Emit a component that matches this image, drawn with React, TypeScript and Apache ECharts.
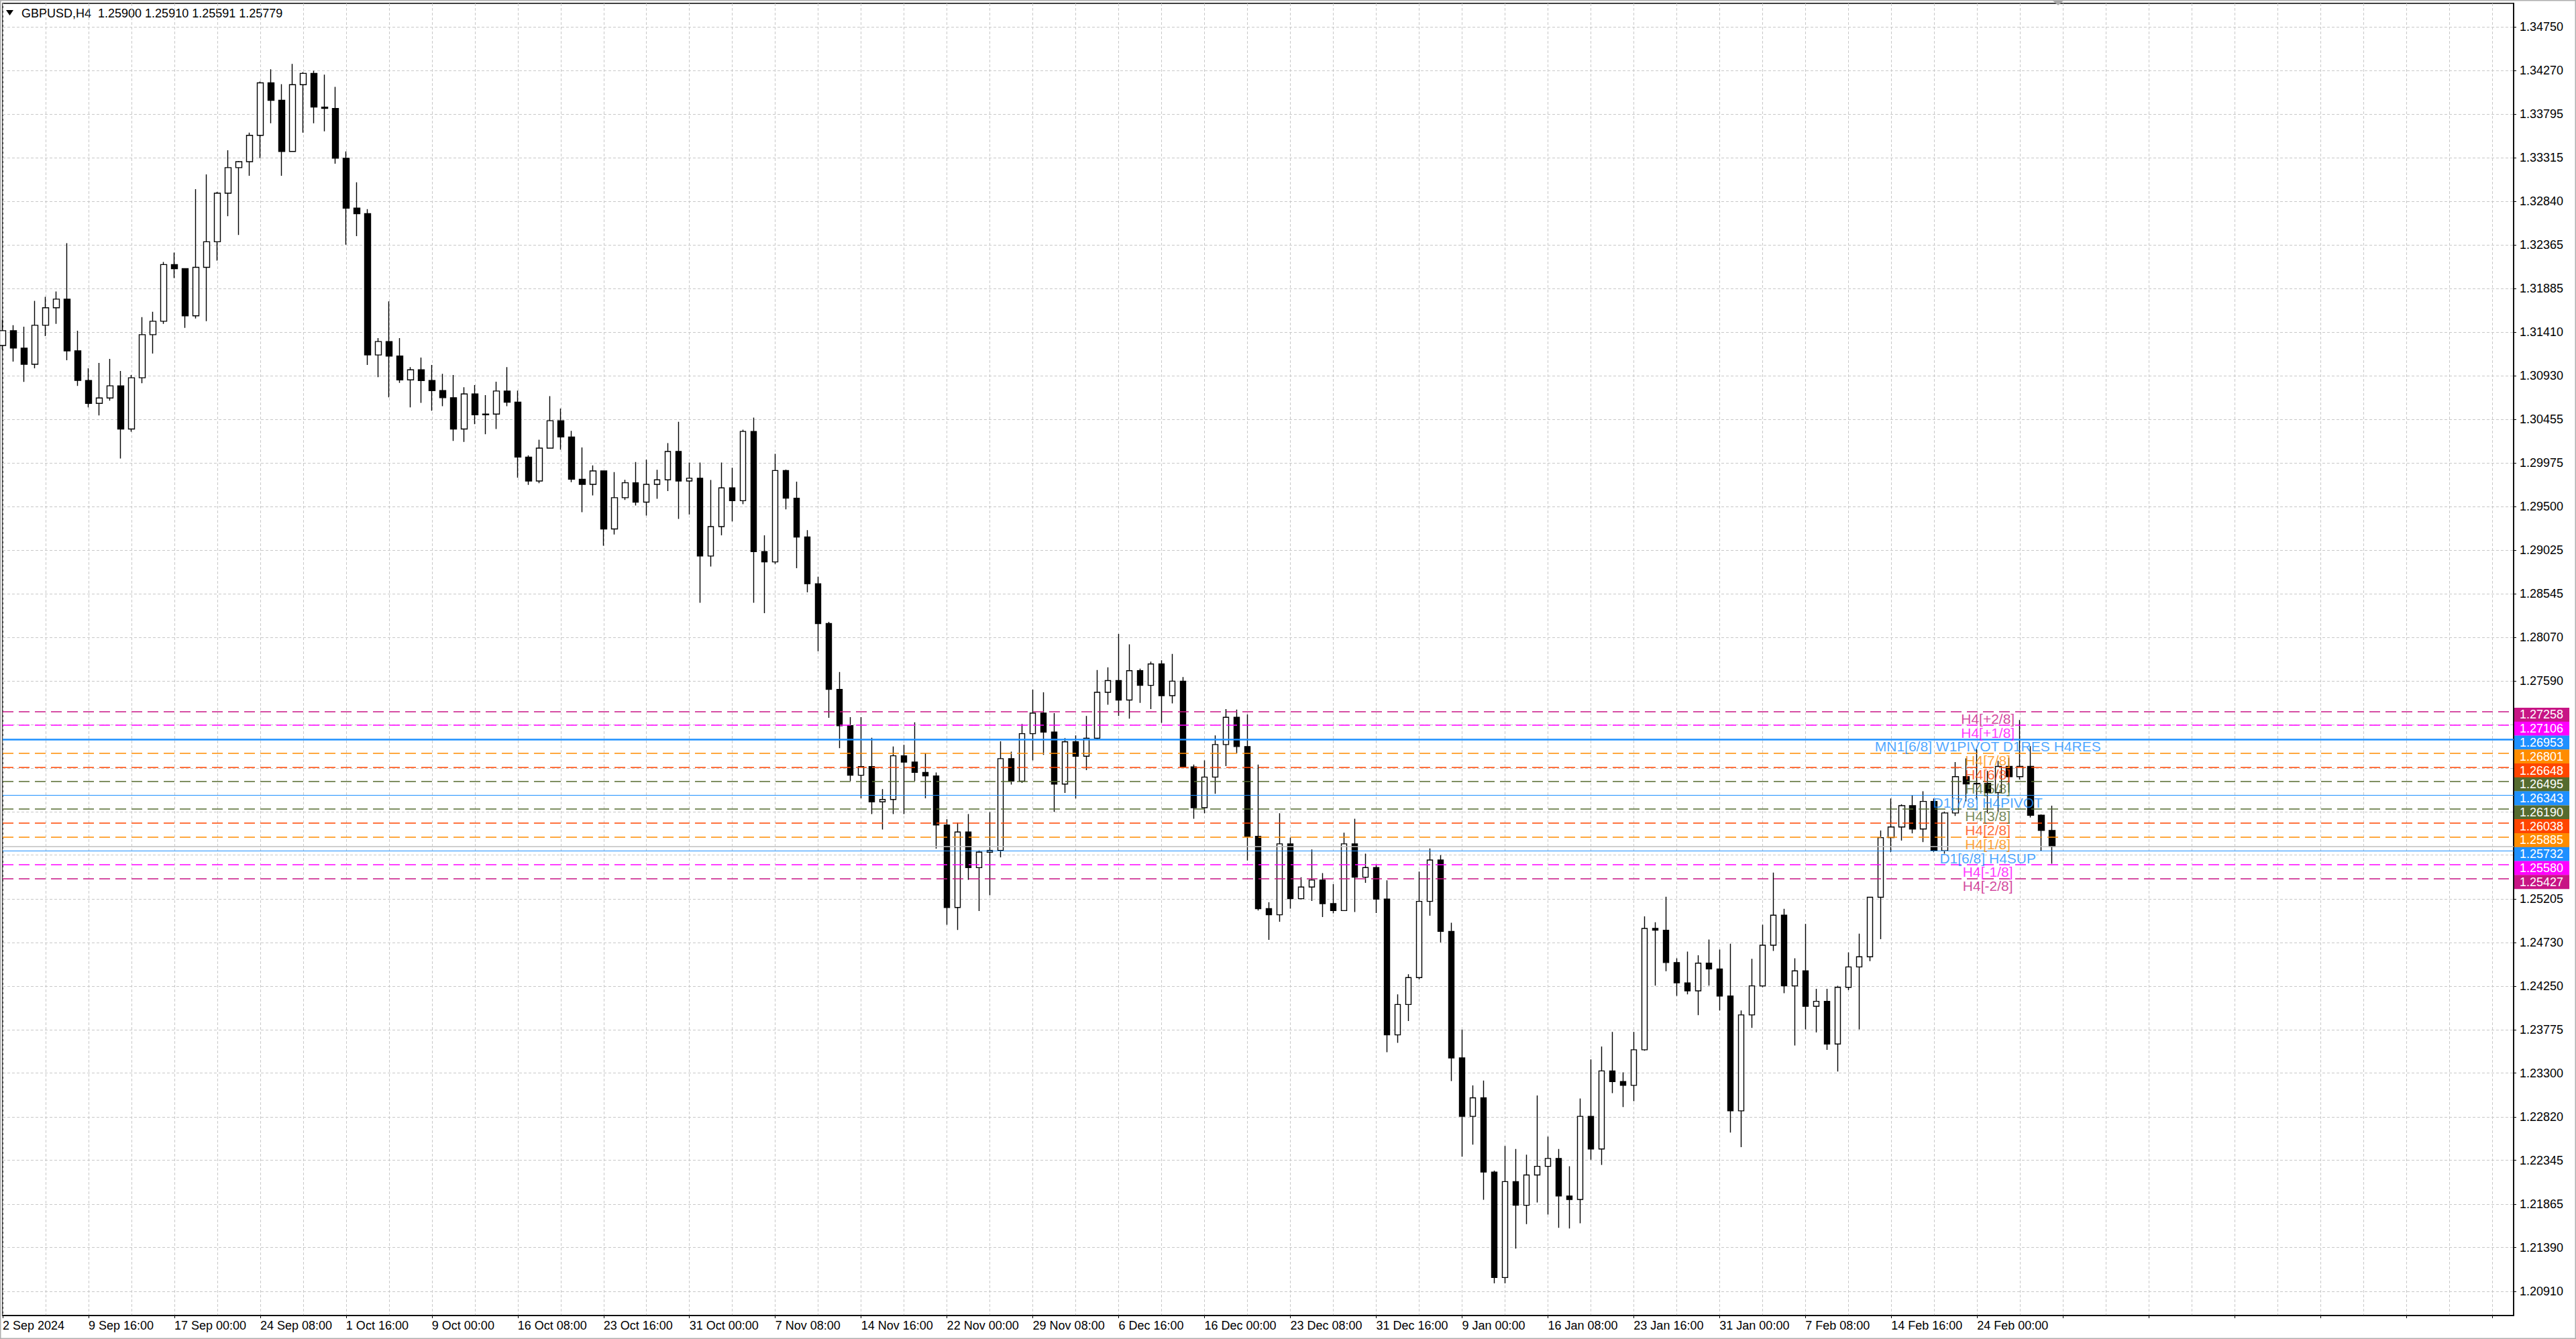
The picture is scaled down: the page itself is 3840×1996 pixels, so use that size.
import { useEffect, useRef } from 'react';
import * as echarts from 'echarts';

// GBPUSD H4, one candle here = four H4 bars
const firstOpen = 1.31263;

const highs = [
  1.31543, 1.31484, 1.31469, 1.3175, 1.31794, 1.31853, 1.32383, 1.31425, 1.31013, 1.31071,
  1.31116, 1.30983, 1.30939, 1.31573, 1.31632, 1.32177, 1.3228, 1.32103, 1.32973, 1.33135,
  1.32943, 1.334, 1.33282, 1.33592, 1.34152, 1.34285, 1.34123, 1.34344, 1.34255, 1.3427,
  1.34226, 1.34093, 1.33386, 1.33048, 1.32754, 1.31343, 1.31745, 1.31343, 1.31025, 1.3113,
  1.3105, 1.30952, 1.3094, 1.30805, 1.3083, 1.3072, 1.30866, 1.31025, 1.30769, 1.3006,
  1.30231, 1.30708, 1.30573, 1.30329, 1.30146, 1.29951, 1.29877, 1.29877, 1.29792, 1.29987,
  1.30012, 1.29902, 1.30195, 1.30427, 1.29981, 1.29981, 1.29791, 1.29981, 1.29924, 1.30341,
  1.30473, 1.29185, 1.30076, 1.29905, 1.29773, 1.29242, 1.28731, 1.28238, 1.27689, 1.27196,
  1.27196, 1.26969, 1.26408, 1.26874, 1.26893, 1.27139, 1.26798, 1.2659, 1.26078, 1.2604,
  1.26135, 1.25737, 1.26154, 1.26931, 1.26817, 1.2712, 1.27497, 1.27467, 1.27239, 1.26965,
  1.26995, 1.27208, 1.27711, 1.27741, 1.28106, 1.27991, 1.27726, 1.27802, 1.27817, 1.27887,
  1.27634, 1.26676, 1.26721, 1.26995, 1.27284, 1.27278, 1.27224, 1.26676, 1.25169, 1.26143,
  1.25878, 1.25443, 1.25747, 1.25488, 1.25367, 1.2593, 1.26082, 1.25701, 1.25584, 1.2541,
  1.24161, 1.24382, 1.25505, 1.25758, 1.25685, 1.24945, 1.23775, 1.23165, 1.23218, 1.22232,
  1.22501, 1.22469, 1.22406, 1.23054, 1.22605, 1.22469, 1.22279, 1.23022, 1.23449, 1.23591,
  1.2375, 1.23307, 1.2375, 1.25015, 1.24951, 1.2523, 1.24556, 1.24629, 1.24588, 1.24762,
  1.24651, 1.24715, 1.23984, 1.2455, 1.24922, 1.25494, 1.25097, 1.24556, 1.24931, 1.24222,
  1.24222, 1.24254, 1.2462, 1.24826, 1.25224, 1.25955, 1.26305, 1.26241, 1.26337, 1.26384,
  1.26305, 1.26162, 1.26703, 1.26744, 1.26846, 1.26607, 1.26718, 1.2675, 1.27164, 1.26877,
  1.2613, 1.26226,
];

const lows = [
  1.31219, 1.31086, 1.30865, 1.31013, 1.31366, 1.31499, 1.31101, 1.30821, 1.30585, 1.30497,
  1.30659, 1.30025, 1.3032, 1.3085, 1.31175, 1.31499, 1.32, 1.31455, 1.31558, 1.31528,
  1.32192, 1.32678, 1.32472, 1.3312, 1.33312, 1.33695, 1.3312, 1.33386, 1.33592, 1.33695,
  1.33607, 1.33253, 1.32366, 1.3246, 1.31049, 1.30915, 1.30695, 1.30854, 1.30586, 1.30634,
  1.30549, 1.30598, 1.30219, 1.30207, 1.30402, 1.30292, 1.30349, 1.30598, 1.29816, 1.29738,
  1.29755, 1.30134, 1.30122, 1.29767, 1.29438, 1.29621, 1.29071, 1.29194, 1.29572, 1.29511,
  1.29401, 1.29584, 1.2967, 1.29365, 1.29413, 1.28446, 1.28844, 1.29185, 1.29337, 1.29526,
  1.28446, 1.28333, 1.28871, 1.29469, 1.28825, 1.2856, 1.27916, 1.27188, 1.26855, 1.26495,
  1.26306, 1.26135, 1.25965, 1.26135, 1.26135, 1.26495, 1.26306, 1.25756, 1.24923, 1.24866,
  1.25415, 1.25074, 1.25245, 1.25661, 1.26457, 1.26476, 1.26721, 1.26782, 1.26158, 1.26365,
  1.26304, 1.26615, 1.2695, 1.2733, 1.27208, 1.27178, 1.27351, 1.27284, 1.27132, 1.27345,
  1.26645, 1.26082, 1.26143, 1.26356, 1.2666, 1.26797, 1.25625, 1.25078, 1.24758, 1.24956,
  1.25099, 1.25199, 1.25184, 1.25007, 1.25047, 1.25078, 1.25062, 1.25382, 1.25052, 1.23528,
  1.2363, 1.2387, 1.24325, 1.25021, 1.2473, 1.23212, 1.22384, 1.22517, 1.21912, 1.20999,
  1.20999, 1.21378, 1.21647, 1.21884, 1.21751, 1.21606, 1.21599, 1.21656, 1.22352, 1.22295,
  1.23079, 1.22928, 1.22991, 1.23544, 1.24256, 1.24414, 1.24145, 1.24161, 1.23933, 1.24256,
  1.23984, 1.22648, 1.22489, 1.23793, 1.24238, 1.24636, 1.24174, 1.23602, 1.23777, 1.23745,
  1.23554, 1.23316, 1.24206, 1.23777, 1.24524, 1.24765, 1.25717, 1.25844, 1.25923, 1.25828,
  1.25717, 1.25701, 1.26114, 1.26273, 1.26289, 1.26146, 1.26162, 1.26369, 1.26512, 1.26098,
  1.25733, 1.2559,
];

const closes = [
  1.31425, 1.31234, 1.31057, 1.31484, 1.31676, 1.3177, 1.31204, 1.3088, 1.30629, 1.30688,
  1.30821, 1.30349, 1.30909, 1.31381, 1.31528, 1.32148, 1.32103, 1.31587, 1.32118, 1.32398,
  1.32929, 1.33209, 1.33274, 1.33563, 1.34137, 1.33946, 1.33386, 1.34117, 1.34241, 1.33872,
  1.33857, 1.33312, 1.32766, 1.32705, 1.31159, 1.31306, 1.31147, 1.30886, 1.30996, 1.30879,
  1.30769, 1.30691, 1.30349, 1.30732, 1.30505, 1.30512, 1.30764, 1.30642, 1.30041, 1.2978,
  1.30139, 1.30439, 1.30261, 1.29799, 1.29743, 1.2989, 1.29255, 1.29597, 1.2976, 1.29548,
  1.29743, 1.29792, 1.30102, 1.2978, 1.2981, 1.28958, 1.2928, 1.29704, 1.29564, 1.30322,
  1.29007, 1.28894, 1.29894, 1.29591, 1.29166, 1.28655, 1.28219, 1.27499, 1.27101, 1.26559,
  1.26654, 1.26268, 1.26294, 1.26772, 1.26703, 1.2659, 1.26552, 1.26014, 1.25112, 1.25938,
  1.25548, 1.25718, 1.25737, 1.26741, 1.26495, 1.27014, 1.27239, 1.27032, 1.26463, 1.26925,
  1.26767, 1.26965, 1.27467, 1.27595, 1.27382, 1.27704, 1.27543, 1.27777, 1.2743, 1.27589,
  1.26651, 1.26204, 1.26539, 1.26895, 1.27193, 1.26873, 1.2589, 1.25099, 1.25032, 1.25808,
  1.25208, 1.25336, 1.25412, 1.25154, 1.25078, 1.25808, 1.25443, 1.25549, 1.25204, 1.23718,
  1.2405, 1.24344, 1.25179, 1.25631, 1.2485, 1.23465, 1.22826, 1.23029, 1.22216, 1.21062,
  1.22112, 1.21853, 1.22184, 1.22279, 1.22365, 1.21954, 1.21916, 1.22826, 1.22469, 1.23323,
  1.23206, 1.23165, 1.23554, 1.24882, 1.24863, 1.24509, 1.24287, 1.24199, 1.24502, 1.24439,
  1.24143, 1.22886, 1.23936, 1.24254, 1.24699, 1.25027, 1.24254, 1.24418, 1.24031, 1.24085,
  1.23618, 1.24238, 1.24461, 1.24572, 1.25224, 1.25876, 1.25993, 1.26226, 1.25971, 1.26273,
  1.25733, 1.26146, 1.26544, 1.26464, 1.2647, 1.26369, 1.26655, 1.26544, 1.26655, 1.26121,
  1.25955, 1.25779,
];

const timeLabels = [
  '2 Sep 2024', '9 Sep 16:00', '17 Sep 00:00', '24 Sep 08:00', '1 Oct 16:00', '9 Oct 00:00',
  '16 Oct 08:00', '23 Oct 16:00', '31 Oct 00:00', '7 Nov 08:00', '14 Nov 16:00', '22 Nov 00:00',
  '29 Nov 08:00', '6 Dec 16:00', '16 Dec 00:00', '23 Dec 08:00', '31 Dec 16:00', '9 Jan 00:00',
  '16 Jan 08:00', '23 Jan 16:00', '31 Jan 00:00', '7 Feb 08:00', '14 Feb 16:00', '24 Feb 00:00',
];

const priceTicks = [
  1.2091, 1.2139, 1.21865, 1.22345, 1.2282, 1.233, 1.23775, 1.2425, 1.2473, 1.25205,
  1.25685, 1.2616, 1.26635, 1.27115, 1.2759, 1.2807, 1.28545, 1.29025, 1.295, 1.29975,
  1.30455, 1.3093, 1.3141, 1.31885, 1.32365, 1.3284, 1.33315, 1.33795, 1.3427, 1.3475,
];
// ticks whose text sits under the coloured price boxes
const coveredTicks = [1.25685, 1.2616, 1.26635, 1.27115];

const levelPrices = [
  1.27258, 1.27106, 1.26953, 1.26801, 1.26648, 1.26495, 1.26343,
  1.2619, 1.26038, 1.25885, 1.25732, 1.2558, 1.25427,
];
const levelNames = [
  'H4[+2/8]', 'H4[+1/8]', 'MN1[6/8] W1PIVOT D1RES H4RES', 'H4[7/8]', 'H4[6/8]', 'H4[5/8]',
  'D1[7/8] H4PIVOT', 'H4[3/8]', 'H4[2/8]', 'H4[1/8]', 'D1[6/8] H4SUP', 'H4[-1/8]', 'H4[-2/8]',
];
const bidPrice = 1.25779;
const headerText = 'GBPUSD,H4  1.25900 1.25910 1.25591 1.25779';

const levelStyles = [
  { color: '#C71585', kind: 'dash' },
  { color: '#FF00FF', kind: 'dash' },
  { color: '#1E90FF', kind: 'thick' },
  { color: '#FF8C00', kind: 'dash' },
  { color: '#FF4500', kind: 'dash' },
  { color: '#556B2F', kind: 'dash' },
  { color: '#1E90FF', kind: 'solid' },
  { color: '#556B2F', kind: 'dash' },
  { color: '#FF4500', kind: 'dash' },
  { color: '#FF8C00', kind: 'dash' },
  { color: '#1E90FF', kind: 'solid' },
  { color: '#FF00FF', kind: 'dash' },
  { color: '#C71585', kind: 'dash' },
];

const FONT = "'Liberation Sans', Arial, sans-serif";
const SLOT_COUNT = 235;
const LABEL_SLOT = 185;
const GRID_COLOR = '#c8c8c8';

function buildOption() {
  const categories = Array.from({ length: SLOT_COUNT }, (_, i) => String(i));

  const candles = closes.map((close, i) => {
    const open = i === 0 ? firstOpen : closes[i - 1];
    const high = Math.max(highs[i], open, close);
    const low = Math.min(lows[i], open, close);
    return [open, close, low, high];
  });

  const labelTicks = priceTicks.filter((t) => !coveredTicks.includes(t));

  const levelLines = levelPrices.map((price, i) => {
    const st = levelStyles[i];
    return {
      yAxis: price,
      lineStyle: {
        color: st.color,
        width: st.kind === 'thick' ? 2.5 : st.kind === 'solid' ? 1.2 : 1.5,
        type: st.kind === 'dash' ? [16, 8] : 'solid',
      },
      label: {
        show: true,
        position: 'end',
        distance: 1,
        offset: [0, 5],
        formatter: price.toFixed(5),
        color: '#fff',
        backgroundColor: st.color,
        padding: [2, 9, 1, 8],
        lineHeight: 18,
        fontSize: 18,
        fontFamily: FONT,
      },
    };
  });

  return {
    animation: false,
    backgroundColor: '#ffffff',
    textStyle: { fontFamily: FONT },
    grid: {
      left: 4,
      right: 93,
      top: 5,
      bottom: 35,
      show: true,
      borderColor: '#000',
      borderWidth: 1.5,
    },
    xAxis: {
      type: 'category',
      data: categories,
      boundaryGap: false,
      axisLine: { show: true, lineStyle: { color: '#000', width: 1.5 } },
      axisTick: { show: true, interval: 7, length: 4, lineStyle: { color: '#000' } },
      axisLabel: {
        interval: 7,
        align: 'left',
        color: '#000',
        fontSize: 18,
        fontFamily: FONT,
        margin: 6,
        formatter: (_: string, idx: number) => (idx % 8 === 0 ? timeLabels[idx / 8] ?? '' : ''),
      },
      splitLine: { show: true, interval: 3, lineStyle: { color: GRID_COLOR, type: [4, 3], width: 1 } },
    },
    yAxis: {
      type: 'value',
      position: 'right',
      min: 1.20646,
      max: 1.35007,
      axisLine: { show: true, lineStyle: { color: '#000', width: 1.5 } },
      axisTick: { show: true, length: 4, customValues: priceTicks, lineStyle: { color: '#000' } },
      axisLabel: {
        customValues: labelTicks,
        formatter: (v: number) => v.toFixed(5),
        color: '#000',
        fontSize: 18,
        fontFamily: FONT,
        margin: 9,
      },
      splitLine: { show: true, lineStyle: { color: GRID_COLOR, type: [4, 3], width: 1 } },
    },
    series: [
      {
        type: 'candlestick',
        data: candles,
        barWidth: 9,
        itemStyle: {
          color: '#ffffff',
          color0: '#000000',
          borderColor: '#000000',
          borderColor0: '#000000',
          borderWidth: 1.4,
        },
        markLine: {
          silent: true,
          symbol: ['none', 'none'],
          precision: 5,
          animation: false,
          data: [
            {
              yAxis: bidPrice,
              lineStyle: { color: '#c0c0c0', width: 1.5, type: 'solid' },
              label: { show: false },
            },
            ...levelLines,
          ],
        },
      },
      {
        type: 'scatter',
        silent: true,
        symbol: 'circle',
        symbolSize: 1,
        itemStyle: { color: 'rgba(0,0,0,0)' },
        z: 5,
        data: levelPrices.map((price, i) => ({
          value: [LABEL_SLOT, price],
          label: { formatter: levelNames[i], color: levelStyles[i].color },
        })),
        label: {
          show: true,
          position: 'bottom',
          distance: 0,
          fontSize: 21,
          fontFamily: FONT,
        },
      },
    ],
    graphic: [
      {
        type: 'rect',
        shape: { x: 0.5, y: 0.5, width: 3839, height: 1995 },
        style: { fill: 'none', stroke: '#b0b0b0', lineWidth: 2 },
        silent: true,
      },
      {
        type: 'polygon',
        shape: { points: [[9, 15], [20, 15], [14.5, 23]] },
        style: { fill: '#000' },
        silent: true,
      },
      {
        type: 'text',
        x: 32,
        y: 20,
        style: {
          text: headerText,
          fill: '#000',
          font: `18px ${FONT}`,
          verticalAlign: 'middle',
        },
        silent: true,
      },
      {
        type: 'polygon',
        shape: { points: [[3060, 1], [3076, 1], [3068, 8]] },
        style: { fill: '#a8a8a8' },
        silent: true,
      },
    ],
  };
}

export default function App() {
  const ref = useRef<HTMLDivElement>(null);

  useEffect(() => {
    if (!ref.current) return;
    const chart = echarts.init(ref.current, undefined, { renderer: 'svg' });
    chart.setOption(buildOption() as any);
    return () => {
      chart.dispose();
    };
  }, []);

  return (
    <div
      ref={ref}
      style={{ position: 'fixed', left: 0, top: 0, width: 3840, height: 1996, background: '#fff' }}
    />
  );
}
